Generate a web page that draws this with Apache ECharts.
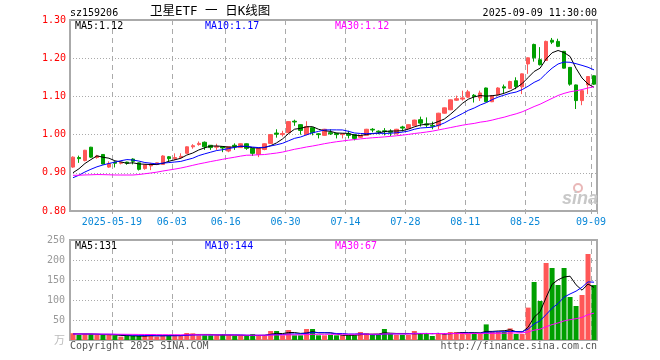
<!DOCTYPE html>
<html>
<head>
<meta charset="utf-8">
<script src="https://cdn.jsdelivr.net/npm/echarts@6/dist/echarts.min.js"></script>
<style>html,body{margin:0;padding:0;background:#fff}#c{width:660px;height:360px}</style>
</head>
<body>
<div id="c"></div>
<script>
// ---- data ----
const dates = [
'2025-05-08','2025-05-09','2025-05-12','2025-05-13','2025-05-14','2025-05-15','2025-05-16','2025-05-19','2025-05-20','2025-05-21',
'2025-05-22','2025-05-23','2025-05-26','2025-05-27','2025-05-28','2025-05-29','2025-05-30','2025-06-03','2025-06-04','2025-06-05',
'2025-06-06','2025-06-09','2025-06-10','2025-06-11','2025-06-12','2025-06-13','2025-06-16','2025-06-17','2025-06-18','2025-06-19',
'2025-06-20','2025-06-23','2025-06-24','2025-06-25','2025-06-26','2025-06-27','2025-06-30','2025-07-01','2025-07-02','2025-07-03',
'2025-07-04','2025-07-07','2025-07-08','2025-07-09','2025-07-10','2025-07-11','2025-07-14','2025-07-15','2025-07-16','2025-07-17',
'2025-07-18','2025-07-21','2025-07-22','2025-07-23','2025-07-24','2025-07-25','2025-07-28','2025-07-29','2025-07-30','2025-07-31',
'2025-08-01','2025-08-04','2025-08-05','2025-08-06','2025-08-07','2025-08-08','2025-08-11','2025-08-12','2025-08-13','2025-08-14',
'2025-08-15','2025-08-18','2025-08-19','2025-08-20','2025-08-21','2025-08-22','2025-08-25','2025-08-26','2025-08-27','2025-08-28',
'2025-08-29','2025-09-01','2025-09-02','2025-09-03','2025-09-04','2025-09-05','2025-09-08','2025-09-09'];

const opens = [
0.915,0.940,0.932,0.967,0.940,0.948,0.915,0.928,0.925,0.928,
0.936,0.926,0.911,0.918,0.922,0.922,0.942,0.937,0.940,0.951,
0.968,0.974,0.980,0.972,0.967,0.968,0.957,0.972,0.966,0.976,
0.964,0.948,0.961,0.977,1.004,1.000,1.005,1.035,1.026,1.000,
1.018,1.002,0.998,1.005,1.003,1.000,1.002,1.000,0.993,0.998,
1.014,1.009,1.010,1.009,1.002,1.020,1.016,1.023,1.039,1.028,
1.024,1.023,1.056,1.065,1.090,1.093,1.098,1.103,1.096,1.122,
1.086,1.104,1.125,1.121,1.141,1.125,1.185,1.236,1.196,1.194,
1.247,1.244,1.218,1.176,1.130,1.089,1.130,1.154];
const closes = [
0.941,0.937,0.959,0.941,0.944,0.923,0.924,0.925,0.927,0.925,
0.930,0.909,0.921,0.923,0.926,0.944,0.937,0.940,0.943,0.968,
0.971,0.977,0.968,0.966,0.969,0.965,0.968,0.969,0.976,0.964,
0.951,0.964,0.976,1.000,1.001,1.003,1.034,1.033,1.011,1.021,
1.005,1.000,1.014,1.002,1.000,1.002,0.998,0.990,0.998,1.014,
1.012,1.007,1.008,1.006,1.014,1.017,1.026,1.038,1.030,1.025,
1.022,1.056,1.070,1.091,1.094,1.096,1.112,1.100,1.109,1.086,
1.102,1.122,1.122,1.139,1.126,1.159,1.201,1.201,1.183,1.244,
1.242,1.231,1.174,1.132,1.089,1.115,1.152,1.132];
const lows = [
0.913,0.926,0.930,0.939,0.937,0.922,0.913,0.914,0.922,0.921,
0.922,0.906,0.908,0.907,0.920,0.921,0.928,0.933,0.937,0.950,
0.963,0.971,0.960,0.960,0.960,0.954,0.954,0.960,0.965,0.960,
0.944,0.941,0.959,0.976,0.992,0.995,1.004,1.023,1.000,0.998,
0.998,0.990,0.997,0.999,0.990,0.990,0.990,0.985,0.991,0.997,
1.006,1.001,0.998,0.996,1.001,1.008,1.015,1.022,1.021,1.018,
1.014,1.014,1.055,1.064,1.088,1.089,1.096,1.084,1.088,1.085,
1.085,1.102,1.109,1.119,1.119,1.106,1.159,1.191,1.181,1.193,
1.237,1.229,1.173,1.128,1.067,1.077,1.106,1.130];
const highs = [
0.943,0.945,0.960,0.968,0.947,0.949,0.930,0.930,0.929,0.929,
0.938,0.927,0.922,0.926,0.927,0.946,0.944,0.951,0.951,0.969,
0.975,0.982,0.982,0.972,0.976,0.969,0.969,0.977,0.977,0.977,
0.965,0.965,0.977,1.001,1.014,1.010,1.035,1.039,1.027,1.035,
1.019,1.004,1.015,1.014,1.005,1.004,1.010,1.001,0.999,1.015,
1.017,1.011,1.017,1.014,1.015,1.023,1.027,1.039,1.047,1.045,
1.034,1.057,1.071,1.092,1.102,1.115,1.117,1.106,1.115,1.123,
1.103,1.124,1.131,1.141,1.150,1.160,1.202,1.238,1.229,1.246,
1.253,1.251,1.219,1.177,1.131,1.116,1.153,1.155];
// volume, 万手
const volumes = [
17,12.5,15,15,12.5,12.5,12.5,11.7,8.3,10,
10,10,10,14,8.3,11.7,11.7,11.7,11.7,17.5,
16.7,11.7,11.7,11.7,11.7,15,11.7,10,10,10,
15,11.7,11.7,22.5,22.5,11.7,25,11.7,11.7,27.5,
27.5,11.7,11.7,12.5,11.7,11.7,11.7,11.7,20,16.7,
13,13,27.5,15,13,13,13,22.5,16.7,16.7,
10,16.7,16.7,20,20,20,15,16.7,16.7,39,
20,20,20,29,15,15,81,145,97.5,192.5,
180,137.5,180,107.5,85,112.5,215,137.5];
// estimated values before the visible window (only feed the moving averages' first points)
const closesBefore = [0.93,0.935,0.93,0.925,0.93,0.935,0.94,0.93,0.925,0.93,
0.87,0.86,0.865,0.86,0.855,0.86,0.865,0.86,0.865,0.86,
0.87,0.875,0.87,0.88,0.875,0.885,0.89,0.89,0.895];
const volumesBefore = [15,15,16,15,14,15,16,15,14,15,15,14,15,16,15,14,15,15,16,15,14,15,15,16,15,14,15,16,15];
const tickDates = ['2025-05-19','2025-06-03','2025-06-16','2025-06-30','2025-07-14','2025-07-28','2025-08-11','2025-08-25','2025-09-09'];
const priceAxis = {min: 0.80, max: 1.30, step: 0.10};
const volumeAxis = {min: 0, max: 250, step: 50};

// ---- build ----
function movingAvg(vals, before, n) {
  const all = before.concat(vals);
  const off = before.length;
  return vals.map((v, i) => {
    const end = off + i;
    const start = end - n + 1;
    if (start < 0) return '-';
    let s = 0;
    for (let k = start; k <= end; k++) s += all[k];
    return +(s / n).toFixed(4);
  });
}
const RED = '#ff5757', GREEN = '#009f00';
const candles = dates.map((d, i) => [opens[i], closes[i], lows[i], highs[i]]);
const volBars = volumes.map((v, i) => ({value: v, itemStyle: {color: closes[i] >= opens[i] ? RED : GREEN}}));
const MONO = '"DejaVu Sans Mono", monospace';
const isTick = (idx, val) => tickDates.indexOf(val) >= 0;
const vDash = {show: true, interval: isTick, lineStyle: {color: '#aaa', type: [5, 4], width: 1}};
const hDot = {show: true, lineStyle: {color: '#aaa', type: [1, 2], width: 1}};

function maLine(data, color, xi, yi) {
  return {type: 'line', data: data, xAxisIndex: xi, yAxisIndex: yi, showSymbol: false, symbol: 'none',
    lineStyle: {color: color, width: 1}, itemStyle: {color: color}, silent: true, z: 5};
}

const chart = echarts.init(document.getElementById('c'), null, {renderer: 'canvas'});
function txt(x, y, s, color, align, font) {
  return {type: 'text', x: x, y: y, silent: true, z: 100,
    style: {text: s, fill: color, align: align || 'left', verticalAlign: 'middle', font: font || ('10px ' + MONO)}};
}
chart.setOption({
  animation: false,
  backgroundColor: '#fff',
  grid: [
    {left: 70, right: 63, top: 20, height: 191, show: true, borderColor: '#aaa', borderWidth: 2, backgroundColor: 'transparent'},
    {left: 70, right: 63, top: 240, height: 100, show: true, borderColor: '#aaa', borderWidth: 2, backgroundColor: 'transparent'}
  ],
  xAxis: [
    {type: 'category', gridIndex: 0, data: dates, boundaryGap: true,
      axisLine: {show: false},
      axisTick: {show: true, interval: isTick, length: 3, lineStyle: {color: '#aaa'}},
      axisLabel: {show: true, interval: isTick, color: '#0a88d8', fontFamily: MONO, fontSize: 10, margin: 6,
        padding: [0, 6, 0, 0],
        formatter: v => v === tickDates[0] ? v : v.slice(5)},
      splitLine: vDash},
    {type: 'category', gridIndex: 1, data: dates, boundaryGap: true,
      axisLine: {show: false}, axisTick: {show: false}, axisLabel: {show: false},
      splitLine: vDash}
  ],
  yAxis: [
    {type: 'value', gridIndex: 0, min: priceAxis.min, max: priceAxis.max, interval: priceAxis.step,
      axisLine: {show: false}, axisTick: {show: false},
      axisLabel: {color: '#ff0000', fontFamily: MONO, fontSize: 10, margin: 4, formatter: v => v.toFixed(2)},
      splitLine: hDot},
    {type: 'value', gridIndex: 1, min: volumeAxis.min, max: volumeAxis.max, interval: volumeAxis.step,
      axisLine: {show: false}, axisTick: {show: false},
      axisLabel: {color: '#999', fontFamily: MONO, fontSize: 10, margin: 5,
        formatter: v => v === 0 ? '{w|万}' : String(v),
        rich: {w: {color: '#bbb', fontSize: 11, fontFamily: '"Noto Sans CJK SC"'}}},
      splitLine: hDot}
  ],
  series: [
    {type: 'candlestick', xAxisIndex: 0, yAxisIndex: 0, data: candles, barWidth: 4, silent: true,
      itemStyle: {color: RED, color0: GREEN, borderColor: RED, borderColor0: GREEN, borderWidth: 1}},
    maLine(movingAvg(closes, closesBefore, 5), '#000000', 0, 0),
    maLine(movingAvg(closes, closesBefore, 10), '#0000ff', 0, 0),
    maLine(movingAvg(closes, closesBefore, 30), '#ff00ff', 0, 0),
    {type: 'bar', xAxisIndex: 1, yAxisIndex: 1, data: volBars, barWidth: 5, silent: true},
    maLine(movingAvg(volumes, volumesBefore, 5), '#000000', 1, 1),
    maLine(movingAvg(volumes, volumesBefore, 10), '#0000ff', 1, 1),
    maLine(movingAvg(volumes, volumesBefore, 30), '#ff00ff', 1, 1)
  ],
  graphic: [
    txt(70, 13, 'sz159206', '#000'),
    txt(150, 12, '卫星ETF 一 日K线图', '#000', 'left', '12.5px "DejaVu Sans Mono", "Noto Sans CJK SC"'),
    txt(597, 13, '2025-09-09 11:30:00', '#000', 'right'),
    txt(75, 26, 'MA5:1.12', '#000'),
    txt(205, 26, 'MA10:1.17', '#0000ff'),
    txt(335, 26, 'MA30:1.12', '#ff00ff'),
    txt(75, 246, 'MA5:131', '#000'),
    txt(205, 246, 'MA10:144', '#0000ff'),
    txt(335, 246, 'MA30:67', '#ff00ff'),
    txt(70, 346, 'Copyright 2025 SINA.COM', '#555'),
    txt(597, 346, 'http://finance.sina.com.cn', '#555', 'right'),
    {type: 'circle', shape: {cx: 578, cy: 188, r: 4}, style: {fill: 'none', stroke: '#e9b8b8', lineWidth: 2}, silent: true, z: 1},
    txt(580, 199, 'sina', '#c8c8c8', 'center', 'italic bold 18px "Liberation Sans"')
  ]
});
</script>
</body>
</html>
